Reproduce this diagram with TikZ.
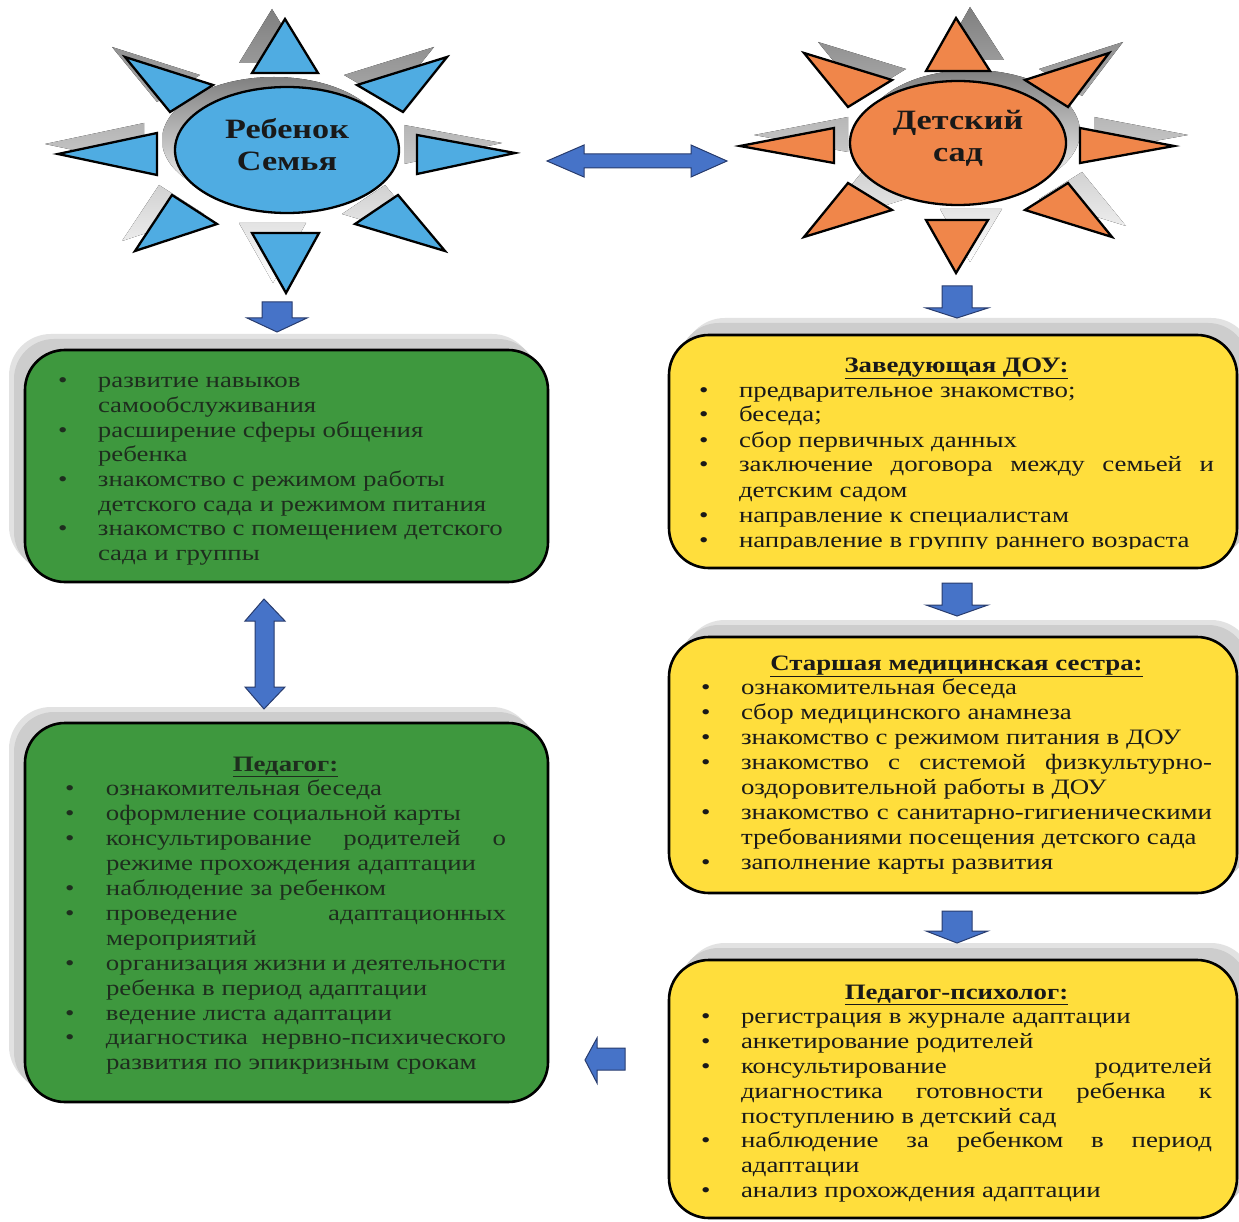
\documentclass[tikz,border=0pt]{standalone}
\usepackage{fontspec}
\setmainfont{Liberation Serif}[FakeStretch=1.22]
\usetikzlibrary{shapes.geometric}
\definecolor{sunblue}{RGB}{79,172,226}
\definecolor{sunorange}{RGB}{240,134,74}
\definecolor{boxgreen}{RGB}{62,152,62}
\definecolor{boxyellow}{RGB}{255,222,60}
\definecolor{arrblue}{RGB}{70,115,200}
\definecolor{arrline}{RGB}{40,60,110}
\definecolor{shade}{RGB}{205,205,205}
\definecolor{shadelight}{RGB}{226,226,226}
\definecolor{gtext}{RGB}{30,46,30}
\definecolor{ytext}{RGB}{25,25,25}

\newlength\bulw \newlength\colw
\newcommand\bitem[2]{\hbox{\makebox[\bulw][l]{\textbullet}\makebox[\colw][#1]{#2}}}
\newcommand\bcont[2]{\hbox{\hspace*{\bulw}\makebox[\colw][#1]{#2}}}
\newcommand\btitle[1]{\hbox to \dimexpr\bulw+\colw\relax{\hfil\underline{\textbf{#1}}\hfil}}
\newcommand\boxtext[4]{\setlength\bulw{#1}\setlength\colw{#2}%
  \parbox[t]{\dimexpr#1+#2\relax}{\fontsize{22pt}{#3}\selectfont\lineskiplimit=-100pt\relax #4}}

\newcommand\leftrays{(285,19)--(252,73)--(318,73)--cycle
 (252,233)--(319,233)--(286,293)--cycle
 (58,154)--(157,133)--(157,175)--cycle
 (417,135)--(417,174)--(515,153)--cycle
 (125,57)--(213,85)--(170,112)--cycle
 (447,57)--(357,85)--(403,112)--cycle
 (135,251)--(172,195)--(217,224)--cycle
 (445,251)--(398,195)--(355,224)--cycle}
\newcommand\rightrays{(956,18)--(926,71)--(990,71)--cycle
 (926,220)--(988,220)--(956,273)--cycle
 (740,146)--(834,128)--(834,163)--cycle
 (1080,128)--(1080,163)--(1174,146)--cycle
 (804,53)--(892,80)--(848,107)--cycle
 (1109,53)--(1025,80)--(1068,107)--cycle
 (804,237)--(848,183)--(892,210)--cycle
 (1112,237)--(1068,183)--(1025,210)--cycle}

\begin{document}
\begin{tikzpicture}[x=1pt,y=-1pt,
  tri/.style={draw=black, line width=2.3pt, line join=miter},
  sunell/.style={ellipse, draw=black, line width=2.3pt, inner sep=0pt},
  suntext/.style={font=\fontsize{28pt}{32pt}\selectfont\bfseries, align=center, text=ytext, inner sep=0pt},
  gbox/.style={draw=black, line width=2.6pt, rounded corners=40pt, fill=boxgreen, inner sep=0pt},
  ybox/.style={draw=black, line width=2.6pt, rounded corners=40pt, fill=boxyellow, inner sep=0pt},
  bshadow/.style={fill=shade, rounded corners=40pt},
  bshadowlt/.style={fill=shadelight, rounded corners=42pt},
  btext/.style={anchor=base west, inner sep=0pt, outer sep=0pt},
  barrow/.style={fill=arrblue, draw=arrline, line width=1pt, line join=miter}]
\useasboundingbox (0,0) rectangle (1239,1222);
\fill[white] (0,0) rectangle (1239,1222);

% ---- left sun
\fill[shade, shift={(-13,-10)}] \leftrays;
\fill[shade] (274,140) ellipse [x radius=112pt, y radius=63pt];
\filldraw[tri, fill=sunblue] \leftrays;
\node[sunell, fill=sunblue, minimum width=224pt, minimum height=126pt] (child) at (287,150) {};
\node[suntext] (childtxt) at (287,145) {Ребенок\\Семья};

% ---- right sun
\fill[shade, shift={(14,-11)}] \rightrays;
\fill[shade] (972,132) ellipse [x radius=108pt, y radius=62pt];
\filldraw[tri, fill=sunorange] \rightrays;
\node[sunell, fill=sunorange, minimum width=216pt, minimum height=124pt] (kg) at (958,143) {};
\node[suntext] (kgtxt) at (958,138) {Детский\\сад};

% ---- boxes shadows (soft: light outer layer, darker inner layer)
\fill[bshadowlt] (9,334) rectangle (534,568);
\fill[bshadowlt] (9,707) rectangle (534,1088);
\fill[bshadowlt] (683,318) rectangle (1253,553);
\fill[bshadowlt] (683,620) rectangle (1253,878);
\fill[bshadowlt] (683,943) rectangle (1253,1203);
\fill[bshadow] (14,339) rectangle (538,572);
\fill[bshadow] (14,712) rectangle (538,1092);
\fill[bshadow] (679,323) rectangle (1248,557);
\fill[bshadow] (679,625) rectangle (1248,882);
\fill[bshadow] (679,948) rectangle (1248,1207);

% ---- boxes
\node[gbox, minimum width=523pt, minimum height=232pt] (g1) at (286.5,466) {};
\node[gbox, minimum width=523pt, minimum height=379pt] (g2) at (286.5,912.5) {};
\node[ybox, minimum width=568pt, minimum height=233pt] (y1) at (953,451.5) {};
\node[ybox, minimum width=568pt, minimum height=256pt] (y2) at (953,765) {};
\node[ybox, minimum width=568pt, minimum height=258pt] (y3) at (953,1089) {};

% ---- texts
\node[btext, text=gtext] (g1t) at (58,388) {\boxtext{40pt}{406pt}{24.6pt}{%
 \bitem{l}{развитие навыков}
 \bcont{l}{самообслуживания}
 \bitem{l}{расширение сферы общения}
 \bcont{l}{ребенка}
 \bitem{l}{знакомство с режимом работы}
 \bcont{l}{детского сада и режимом питания}
 \bitem{l}{знакомство с помещением детского}
 \bcont{l}{сада и группы}}};

\node[btext, text=gtext] (g2t) at (65,771) {\boxtext{41pt}{400pt}{24.9pt}{%
 \btitle{Педагог:}
 \bitem{l}{ознакомительная беседа}
 \bitem{l}{оформление социальной карты}
 \bitem{s}{консультирование родителей о}
 \bcont{l}{режиме прохождения адаптации}
 \bitem{l}{наблюдение за ребенком}
 \bitem{s}{проведение адаптационных}
 \bcont{l}{мероприятий}
 \bitem{s}{организация жизни и деятельности}
 \bcont{l}{ребенка в период адаптации}
 \bitem{l}{ведение листа адаптации}
 \bitem{s}{диагностика нервно-психического}
 \bcont{l}{развития по эпикризным срокам}}};

\begin{scope}
\clip (660,330) rectangle (1239,548);
\node[btext, text=ytext] (y1t) at (699,372) {\boxtext{40pt}{475pt}{25pt}{%
 \btitle{Заведующая ДОУ:}
 \bitem{l}{предварительное знакомство;}
 \bitem{l}{беседа;}
 \bitem{l}{сбор первичных данных}
 \bitem{s}{заключение договора между семьей и}
 \bcont{l}{детским садом}
 \bitem{l}{направление к специалистам}
 \bitem{l}{направление в группу раннего возраста}}};
\end{scope}

\node[btext, text=ytext] (y2t) at (701,670) {\boxtext{40pt}{471pt}{24.9pt}{%
 \btitle{Старшая медицинская сестра:}
 \bitem{l}{ознакомительная беседа}
 \bitem{l}{сбор медицинского анамнеза}
 \bitem{l}{знакомство с режимом питания в ДОУ}
 \bitem{s}{знакомство с системой физкультурно-}
 \bcont{l}{оздоровительной работы в ДОУ}
 \bitem{s}{знакомство с санитарно-гигиеническими}
 \bcont{l}{требованиями посещения детского сада}
 \bitem{l}{заполнение карты развития}}};

\node[btext, text=ytext] (y3t) at (701,999) {\boxtext{40pt}{471pt}{24.8pt}{%
 \btitle{Педагог-психолог:}
 \bitem{l}{регистрация в журнале адаптации}
 \bitem{l}{анкетирование родителей}
 \bitem{s}{консультирование родителей}
 \bcont{s}{диагностика готовности ребенка к}
 \bcont{l}{поступлению в детский сад}
 \bitem{s}{наблюдение за ребенком в период}
 \bcont{l}{адаптации}
 \bitem{l}{анализ прохождения адаптации}}};

% ---- block arrows
\filldraw[barrow] (547,161)--(584,145)--(584,154)--(691,154)--(691,145)--(727,161)--(691,177)--(691,168)--(584,168)--(584,177)--cycle;
\filldraw[barrow] (262,302)--(292,302)--(292,318)--(307,318)--(277,332)--(247,318)--(262,318)--cycle;
\filldraw[barrow] (942,286)--(972,286)--(972,308)--(988,308)--(957,318)--(926,308)--(942,308)--cycle;
\filldraw[barrow] (942,583)--(972,583)--(972,605)--(988,605)--(957,616)--(926,605)--(942,605)--cycle;
\filldraw[barrow] (942,911)--(972,911)--(972,931)--(988,931)--(957,943)--(926,931)--(942,931)--cycle;
\filldraw[barrow] (625,1048)--(625,1070)--(597,1070)--(597,1083)--(585,1060)--(597,1038)--(597,1048)--cycle;
\filldraw[barrow] (264,599)--(285,621)--(274,621)--(274,687)--(285,687)--(264,709)--(245,687)--(255,687)--(255,621)--(245,621)--cycle;
\end{tikzpicture}
\end{document}
